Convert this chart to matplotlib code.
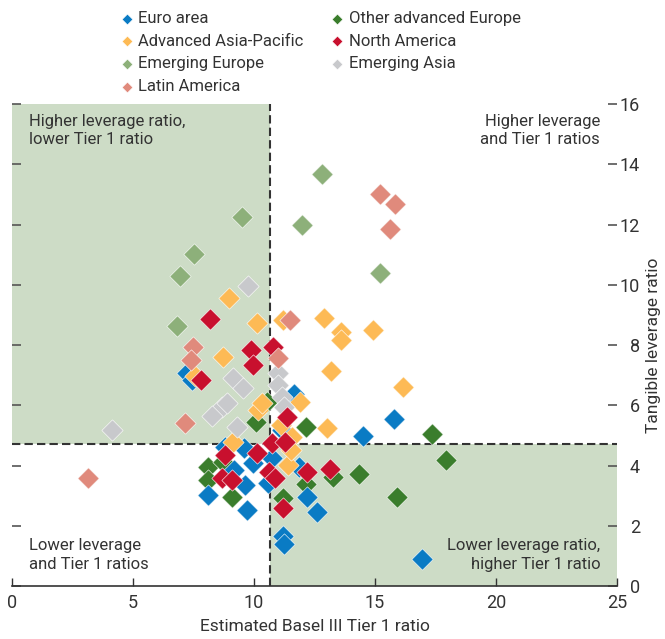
import matplotlib
matplotlib.use("Agg")
import matplotlib.pyplot as plt

plt.rcParams['font.family'] = ['Roboto', 'DejaVu Sans']

# estimated Basel III Tier 1 ratio (x) and tangible leverage ratio (y) by region
euro_x = [7.23, 7.44, 11.49, 11.65, 15.79, 14.50, 16.94, 11.20, 11.24, 12.60, 12.19, 11.86,
          10.58, 10.74, 8.10, 9.71, 9.63, 9.17, 9.96, 9.59, 8.80, 11.16]
euro_y = [7.08, 6.84, 6.25, 6.38, 5.55, 4.98, 0.90, 1.66, 1.40, 2.46, 2.96, 3.95,
          3.42, 4.25, 3.02, 2.52, 3.36, 3.85, 4.09, 4.58, 4.62, 5.18]

oth_eur_x = [17.36, 17.93, 15.91, 14.34, 13.26, 12.15, 12.15, 11.20, 10.54, 10.08, 8.10, 8.10, 9.09, 8.72]
oth_eur_y = [5.05, 4.19, 2.96, 3.72, 3.62, 5.28, 3.39, 2.92, 6.11, 5.45, 3.95, 3.52, 2.96, 4.12]

asia_pac_x = [8.97, 10.12, 11.20, 12.89, 13.60, 13.60, 14.92, 8.72, 13.18, 16.16, 11.90, 13.02,
              10.17, 10.33, 9.13, 11.40, 11.57, 11.12, 11.53, 7.56]
asia_pac_y = [9.57, 8.74, 8.84, 8.90, 8.44, 8.17, 8.50, 7.61, 7.14, 6.61, 6.11, 5.25,
              5.85, 6.08, 4.78, 4.02, 4.95, 5.35, 4.52, 6.98]

em_eur_x = [12.81, 9.50, 11.98, 7.52, 6.94, 15.21, 6.82]
em_eur_y = [13.69, 12.26, 11.99, 11.03, 10.30, 10.40, 8.64]

em_asia_x = [9.75, 4.13, 9.13, 9.55, 8.68, 8.26, 8.88, 9.30, 10.99, 10.99, 11.16, 11.24]
em_asia_y = [9.97, 5.18, 6.91, 6.58, 5.95, 5.65, 6.08, 5.28, 7.08, 6.68, 6.28, 5.95]

n_am_x = [8.18, 9.88, 9.96, 10.79, 7.81, 11.36, 10.74, 11.28, 10.12, 8.80, 8.68, 9.09,
          10.62, 10.87, 11.20, 12.19, 13.14]
n_am_y = [8.87, 7.84, 7.34, 7.94, 6.84, 5.61, 4.75, 4.78, 4.42, 4.35, 3.59, 3.52,
          3.79, 3.59, 2.59, 3.79, 3.89]

lat_am_x = [15.21, 15.83, 15.62, 11.49, 7.48, 7.40, 7.15, 3.14, 10.99]
lat_am_y = [13.02, 12.69, 11.86, 8.84, 7.94, 7.51, 5.42, 3.59, 7.57]

# medians that split the quadrants
tier1_cut = 10.66
lev_cut = 4.72

shade = '#cddcc6'
txt = '#333333'

fig = plt.figure(figsize=(6.65, 6.39), dpi=100)
ax = fig.add_axes([0.018, 0.083, 0.910, 0.754])
ax.set_xlim(0, 25)
ax.set_ylim(0, 16)

ax.fill_between([0, tier1_cut], lev_cut, 16, color=shade, lw=0, zorder=0)
ax.fill_between([tier1_cut, 25], 0, lev_cut, color=shade, lw=0, zorder=0)
ax.axvline(tier1_cut, color='#333333', ls=(0, (4, 2)), lw=1.5, zorder=1)
ax.axhline(lev_cut, color='#333333', ls=(0, (4, 2)), lw=1.5, zorder=1)

series = {
    'Euro area': (euro_x, euro_y, '#0a7bc4'),
    'Other advanced Europe': (oth_eur_x, oth_eur_y, '#3a7d2c'),
    'Advanced Asia-Pacific': (asia_pac_x, asia_pac_y, '#fdba55'),
    'North America': (n_am_x, n_am_y, '#c8102e'),
    'Emerging Europe': (em_eur_x, em_eur_y, '#8db07a'),
    'Emerging Asia': (em_asia_x, em_asia_y, '#c8c9cc'),
    'Latin America': (lat_am_x, lat_am_y, '#e08a7c'),
}
draw_order = ['Other advanced Europe', 'Euro area', 'Advanced Asia-Pacific', 'Emerging Asia',
              'Emerging Europe', 'North America', 'Latin America']
handles = {}
for i, name in enumerate(draw_order):
    x, y, c = series[name]
    handles[name] = ax.scatter(x, y, s=118, marker='D', color=c, edgecolors='white',
                               linewidths=0.4, zorder=3 + i, label=name)

leg_order = ['Euro area', 'Advanced Asia-Pacific', 'Emerging Europe', 'Latin America',
             'Other advanced Europe', 'North America', 'Emerging Asia']
fig.legend([handles[n] for n in leg_order], leg_order, ncol=2, frameon=False,
           loc='upper left', bbox_to_anchor=(0.153, 1.006), fontsize=12,
           markerscale=0.5, handletextpad=0.1, columnspacing=1.4, labelspacing=0.46,
           handlelength=1.2, labelcolor=txt)

# spines and ticks
for s in ['top', 'left', 'right']:
    ax.spines[s].set_visible(False)
ax.spines['bottom'].set_color('#333333')
ax.spines['bottom'].set_linewidth(1.2)
ax.set_xticks([0, 5, 10, 15, 20, 25])
ax.set_yticks(range(0, 17, 2))
ax.tick_params(axis='x', direction='in', length=6, width=1, color='#333333',
               labelsize=13, labelcolor=txt, pad=6)
ax.tick_params(axis='y', direction='in', length=6.5, width=1.2, color='#555555',
               left=True, right=True, labelleft=False, labelright=True,
               labelsize=13, labelcolor=txt, pad=16.5)
for lab in ax.get_yticklabels():
    lab.set_horizontalalignment('right')

ax.set_xlabel('Estimated Basel III Tier 1 ratio', fontsize=12.5, color=txt, labelpad=5)
ax.yaxis.set_label_position('right')
ax.set_ylabel('Tangible leverage ratio', fontsize=12.5, color=txt, labelpad=4)

# quadrant notes
note = dict(fontsize=12, color=txt, linespacing=1.3, transform=ax.transAxes)
ax.text(0.028, 0.98, 'Higher leverage ratio,\nlower Tier 1 ratio', ha='left', va='top', **note)
ax.text(0.972, 0.98, 'Higher leverage\nand Tier 1 ratios', ha='right', va='top',
        multialignment='right', **note)
ax.text(0.028, 0.03, 'Lower leverage\nand Tier 1 ratios', ha='left', va='bottom', **note)
ax.text(0.972, 0.03, 'Lower leverage ratio,\nhigher Tier 1 ratio', ha='right', va='bottom',
        multialignment='right', **note)

fig.savefig('out.png', dpi=100)
